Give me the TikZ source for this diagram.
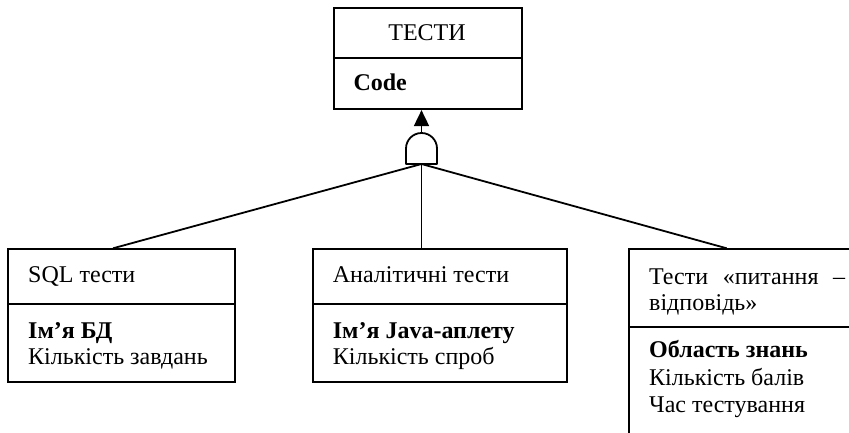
\documentclass[tikz,border=0pt]{standalone}
\usepackage{fontspec}
\setmainfont{Liberation Serif}
\usetikzlibrary{arrows.meta}
\begin{document}
\begin{tikzpicture}[x=1pt,y=-1pt,
  box/.style={draw,line width=1.8pt,rectangle,inner sep=0pt,anchor=north west},
  txt/.style={anchor=base west,inner sep=0pt,font=\fontsize{24}{27}\selectfont},
  link/.style={line width=1.8pt}]
\useasboundingbox (0,0) rectangle (849,432);
\clip (0,0) rectangle (849,432);

% class compartments
\node[box,minimum width=188pt,minimum height=50pt] (tHead) at (333,7.3) {};
\node[box,minimum width=188pt,minimum height=51pt] (tBody) at (333,57.3) {};
\node[box,minimum width=227pt,minimum height=55pt] (sHead) at (7.3,248.3) {};
\node[box,minimum width=227pt,minimum height=77.4pt] (sBody) at (7.3,303.3) {};
\node[box,minimum width=254pt,minimum height=55pt] (aHead) at (311.7,248.3) {};
\node[box,minimum width=254pt,minimum height=77.4pt] (aBody) at (311.7,303.3) {};
\node[box,minimum width=224pt,minimum height=77.7pt] (qHead) at (628,248.3) {};
\node[box,minimum width=224pt,minimum height=130pt] (qBody) at (628,326) {};

% texts
\node[txt,anchor=base] (tName) at (427,40) {ТЕСТИ};
\node[txt] (tKey) at (353.3,90.7) {\bfseries Code};
\node[txt] (sName) at (28,282.3) {SQL тести};
\node[txt] (sKey) at (28,338.3) {\bfseries Ім’я БД};
\node[txt] (sAttr) at (28,364) {Кількість завдань};
\node[txt] (aName) at (332.7,282.3) {Аналітичні тести};
\node[txt] (aKey) at (332.7,338.3) {\bfseries Ім’я Java-аплету};
\node[txt] (aAttr) at (332.7,364) {Кількість спроб};
\node[txt] (qName1) at (649,284) {\makebox[196pt][s]{Тести «питання –}};
\node[txt] (qName2) at (649,310) {відповідь»};
\node[txt] (qKey) at (649,357) {\bfseries Область знань};
\node[txt] (qAttr1) at (649,385) {Кількість балів};
\node[txt] (qAttr2) at (649,412) {Час тестування};

% AND gate
\coordinate (gBot) at (421.5,164);
\coordinate (gTop) at (421.5,133);
\draw[link,line join=round] (406,164) -- (406,148.5) arc (180:360:15.5) -- (437,164) -- cycle;
\draw[link,-{Triangle[width=15pt,length=16pt]}] (gTop) -- (tBody.south -| gTop);

% connectors to subclasses
\coordinate (sIn) at (113,248.3);
\coordinate (aIn) at (421.5,248.3);
\coordinate (qIn) at (726.7,248.3);
\draw[link] (gBot) -- (sIn);
\draw[link] (gBot) -- (aIn);
\draw[link] (gBot) -- (qIn);
\end{tikzpicture}
\end{document}
